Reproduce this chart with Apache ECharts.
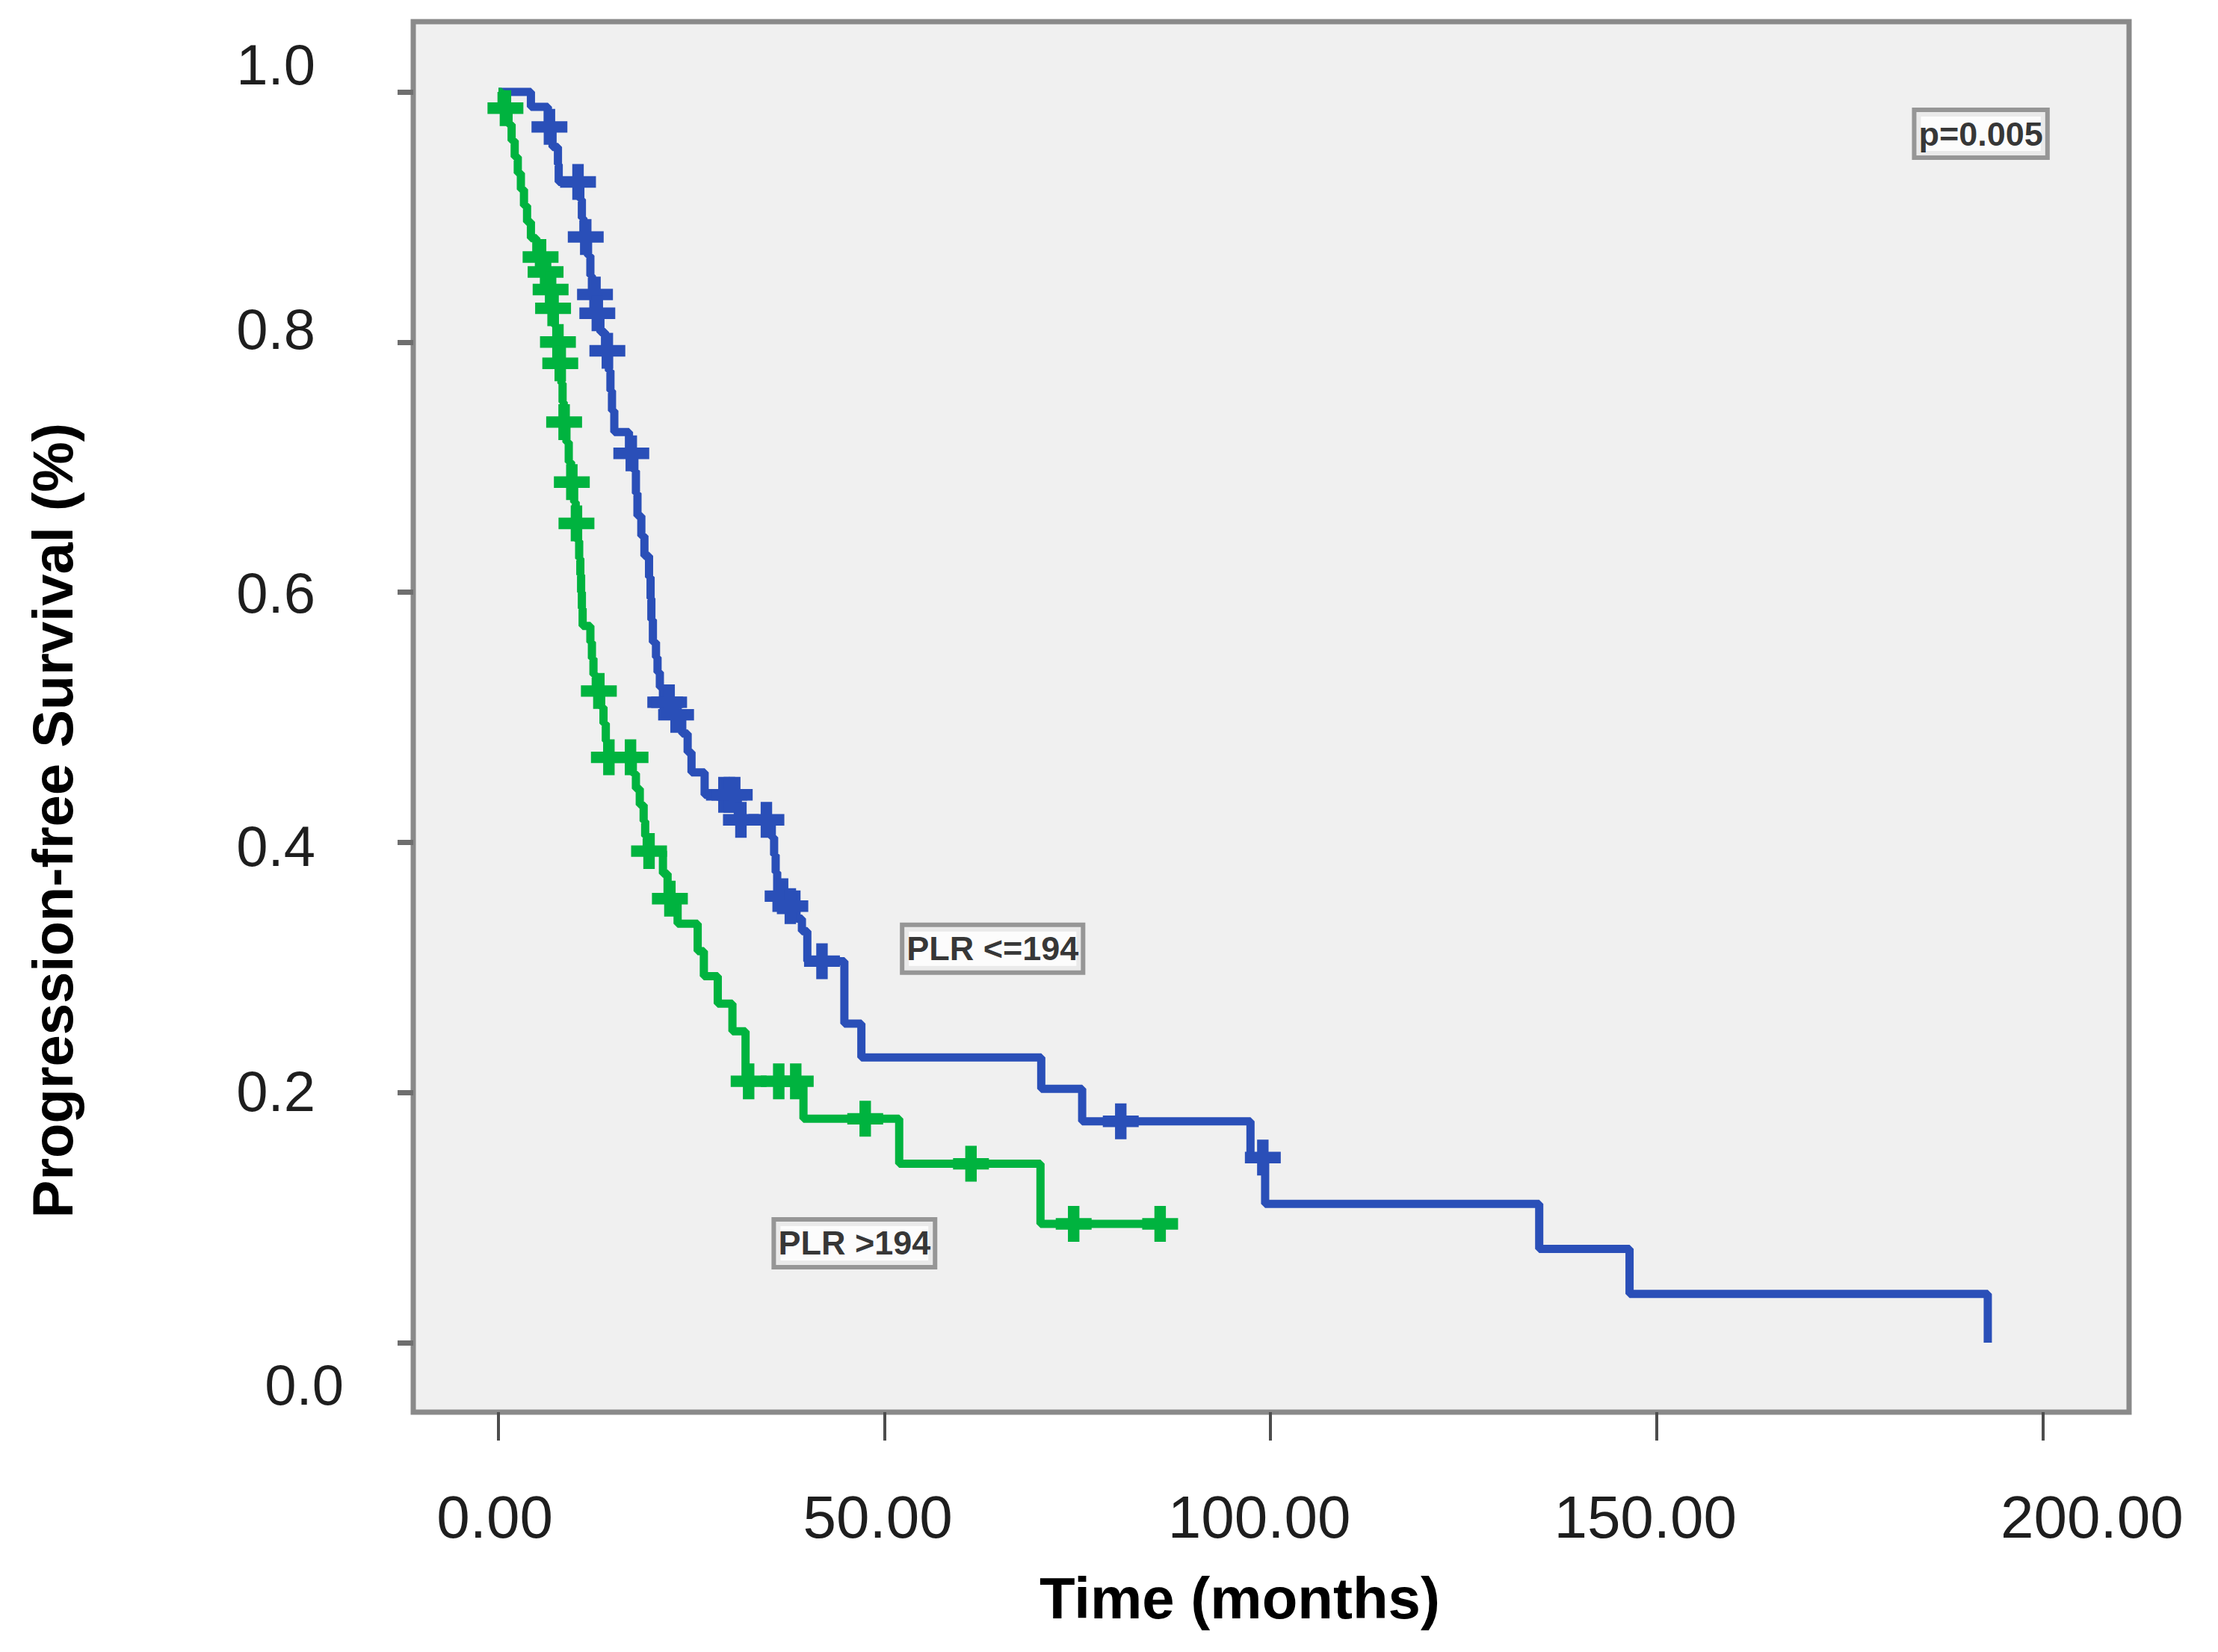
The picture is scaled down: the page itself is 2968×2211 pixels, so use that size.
<!DOCTYPE html>
<html>
<head>
<meta charset="utf-8">
<title>Progression-free Survival by PLR</title>
<script src="https://cdn.jsdelivr.net/npm/echarts@6/dist/echarts.min.js"></script>
<style>
html,body{margin:0;padding:0;background:#ffffff;}
#chart{width:2968px;height:2211px;}
</style>
</head>
<body>
<div id="chart"></div>
<script>
// ---- data (time in months, survival fraction) ----
const groupNames = ['PLR <=194', 'PLR >194'];

// PLR <=194: [time of event, survival after the event]
const blueSteps = [
  [0, 1.0], [4.2, 0.988], [6.4, 0.972], [7.0, 0.956], [7.7, 0.942], [7.8, 0.928],
  [10.6, 0.914], [10.8, 0.899], [11.0, 0.884], [11.6, 0.869], [11.9, 0.853], [12.1, 0.838],
  [12.6, 0.823], [13.2, 0.808], [13.8, 0.793], [14.3, 0.777], [14.5, 0.761], [14.7, 0.745],
  [15.0, 0.728], [16.9, 0.711], [17.6, 0.697], [17.8, 0.679], [18.0, 0.661], [18.5, 0.645],
  [18.9, 0.629], [19.5, 0.612], [19.7, 0.595], [19.8, 0.578], [20.0, 0.560], [20.4, 0.548],
  [20.6, 0.536], [20.9, 0.524], [21.3, 0.512], [22.6, 0.502], [23.8, 0.487], [24.5, 0.472],
  [25.0, 0.456], [26.7, 0.438], [31.0, 0.418], [35.4, 0.404], [35.7, 0.390], [35.9, 0.376],
  [36.1, 0.357], [37.3, 0.349], [38.6, 0.339], [39.3, 0.329], [40.0, 0.305], [44.8, 0.255],
  [47.0, 0.228], [70.3, 0.203], [75.6, 0.177], [97.4, 0.148], [99.3, 0.111], [134.8, 0.075],
  [146.5, 0.039], [192.9, 0.0]
];
const blueCensored = [
  [6.6, 0.972], [10.3, 0.928], [11.3, 0.884], [12.5, 0.838], [12.8, 0.823], [14.1, 0.793],
  [17.2, 0.711], [21.6, 0.512], [22.1, 0.512], [23.0, 0.502], [29.2, 0.438], [29.9, 0.438],
  [30.6, 0.438], [31.4, 0.418], [34.7, 0.418], [36.8, 0.357], [37.8, 0.349], [41.9, 0.305],
  [80.6, 0.177], [99.0, 0.148]
];

// PLR >194
const greenSteps = [
  [0, 1.0], [0.4, 0.987], [1.3, 0.974], [1.7, 0.961], [2.1, 0.948], [2.5, 0.935], [2.9, 0.922],
  [3.3, 0.909], [3.7, 0.896], [4.2, 0.883], [4.9, 0.868], [5.8, 0.856], [6.5, 0.842],
  [6.95, 0.827], [7.3, 0.813], [7.55, 0.800], [7.8, 0.783], [8.15, 0.767], [8.3, 0.752],
  [8.45, 0.736], [8.8, 0.720], [9.1, 0.704], [9.4, 0.688], [9.8, 0.672], [10.0, 0.655],
  [10.3, 0.641], [10.45, 0.627], [10.6, 0.614], [10.7, 0.600], [10.8, 0.587], [10.9, 0.573],
  [11.9, 0.560], [12.1, 0.547], [12.3, 0.534], [12.6, 0.521], [13.3, 0.508], [13.6, 0.495],
  [13.9, 0.481], [14.1, 0.468], [17.4, 0.455], [17.8, 0.443], [18.3, 0.430], [18.8, 0.417],
  [19.0, 0.405], [19.2, 0.393], [21.3, 0.375], [21.9, 0.355], [23.2, 0.335], [25.8, 0.313],
  [26.6, 0.293], [28.4, 0.271], [30.3, 0.249], [32.0, 0.209], [39.5, 0.179], [51.9, 0.143],
  [70.2, 0.095], [87.0, 0.095]
];
const greenCensored = [
  [0.9, 0.987], [5.45, 0.868], [6.1, 0.856], [6.75, 0.842], [7.07, 0.827], [7.7, 0.800],
  [8.0, 0.783], [8.5, 0.736], [9.5, 0.688], [10.1, 0.655], [13.0, 0.521], [14.3, 0.468],
  [17.1, 0.468], [19.5, 0.393], [22.2, 0.355], [32.4, 0.209], [36.3, 0.209], [38.5, 0.209],
  [47.5, 0.179], [61.2, 0.143], [74.5, 0.095], [85.7, 0.095]
];

// tick values
const xTickValues = [0, 50, 100, 150, 200];
const yTickValues = [0, 0.2, 0.4, 0.6, 0.8, 1.0];

// annotation boxes: [x (months), y (survival), text]
const annotations = [
  [64.0, 0.315, 'PLR <=194'],
  [46.1, 0.0795, 'PLR >194'],
  [192.0, 0.9665, 'p=0.005']
];

const xTitle = 'Time (months)';
const yTitle = 'Progression-free Survival (%)';

// ---- styling ----
const BLUE = '#2a4fb8';
const GREEN = '#00b33f';
const FONT = "'Liberation Sans', Arial, Helvetica, sans-serif";
const PLUS = 'path://M0,34 L34,34 L34,0 L66,0 L66,34 L100,34 L100,66 L66,66 L66,100 L34,100 L34,66 L0,66 Z';

const chart = echarts.init(document.getElementById('chart'), null, {renderer: 'svg'});

const xLabelRich = {
  r0: {fontSize: 80, lineHeight: 80, fontFamily: FONT, color: '#1e1e1e', padding: [0, 10, 0, 0]},
  r50: {fontSize: 80, lineHeight: 80, fontFamily: FONT, color: '#1e1e1e', padding: [0, 18, 0, 0]},
  r100: {fontSize: 80, lineHeight: 80, fontFamily: FONT, color: '#1e1e1e', padding: [0, 30, 0, 0]},
  r150: {fontSize: 80, lineHeight: 80, fontFamily: FONT, color: '#1e1e1e', padding: [0, 30, 0, 0]},
  r200: {fontSize: 80, lineHeight: 80, fontFamily: FONT, color: '#1e1e1e', padding: [0, 0, 0, 132]}
};
const yLabelRich = {
  n: {fontSize: 76, lineHeight: 76, fontFamily: FONT, color: '#1e1e1e', padding: [0, 38, 0, 0]},
  z: {fontSize: 76, lineHeight: 76, fontFamily: FONT, color: '#1e1e1e', padding: [0, 0, 0, 0]},
  b4: {fontSize: 76, lineHeight: 76, fontFamily: FONT, color: '#1e1e1e', padding: [0, 38, 29, 0]},
  b2: {fontSize: 76, lineHeight: 76, fontFamily: FONT, color: '#1e1e1e', padding: [0, 38, 78, 0]}
};

const option = {
  animation: false,
  backgroundColor: '#ffffff',
  grid: {
    left: 553, top: 29, width: 2296, height: 1861,
    show: true,
    backgroundColor: '#f0f0f0',
    borderColor: '#8a8a8a',
    borderWidth: 7
  },
  xAxis: {
    type: 'value',
    position: 'bottom',
    min: -11.04,
    max: 211.2,
    axisLine: {show: false, onZero: false},
    splitLine: {show: false},
    axisTick: {
      show: true,
      inside: false,
      customValues: xTickValues,
      length: 38,
      lineStyle: {color: '#4d4d4d', width: 4}
    },
    axisLabel: {
      show: true,
      customValues: xTickValues,
      margin: 100,
      formatter: function (v) {
        return '{r' + Math.round(v) + '|' + v.toFixed(2) + '}';
      },
      rich: xLabelRich
    }
  },
  yAxis: [
    {
      type: 'value',
      position: 'left',
      min: -0.05556,
      max: 1.05615,
      axisLine: {show: false, onZero: false},
      splitLine: {show: false},
      axisTick: {
        show: true,
        inside: false,
        customValues: yTickValues,
        length: 21,
        lineStyle: {color: '#6e6e6e', width: 7}
      },
      axisLabel: {show: false}
    },
    {
      type: 'value',
      position: 'left',
      min: -0.02095,
      max: 1.03284,
      axisLine: {show: false, onZero: false},
      splitLine: {show: false},
      axisTick: {show: false},
      axisLabel: {
        show: true,
        customValues: yTickValues,
        margin: 93,
        formatter: function (v) {
          const k = Math.round(v * 10);
          const key = k === 0 ? 'z' : (k === 2 ? 'b2' : (k === 4 ? 'b4' : 'n'));
          return '{' + key + '|' + v.toFixed(1) + '}';
        },
        rich: yLabelRich
      }
    }
  ],
  series: [
    {
      name: groupNames[0],
      type: 'line',
      step: 'end',
      data: blueSteps,
      showSymbol: false,
      lineStyle: {color: BLUE, width: 11},
      z: 3
    },
    {
      name: groupNames[0] + '-censored',
      type: 'scatter',
      data: blueCensored,
      symbol: PLUS,
      symbolSize: 48,
      itemStyle: {color: BLUE, opacity: 1},
      z: 4
    },
    {
      name: groupNames[1],
      type: 'line',
      step: 'end',
      data: greenSteps,
      showSymbol: false,
      lineStyle: {color: GREEN, width: 11},
      z: 3
    },
    {
      name: groupNames[1] + '-censored',
      type: 'scatter',
      data: greenCensored,
      symbol: PLUS,
      symbolSize: 48,
      itemStyle: {color: GREEN, opacity: 1},
      z: 4
    },
    {
      name: 'annotations',
      type: 'scatter',
      data: annotations,
      symbolSize: 1,
      itemStyle: {color: 'rgba(0,0,0,0)'},
      silent: true,
      z: 6,
      label: {
        show: true,
        position: 'inside',
        formatter: function (p) { return p.value[2]; },
        fontFamily: FONT,
        fontWeight: 'bold',
        fontSize: 45,
        lineHeight: 50,
        color: '#000000',
        backgroundColor: '#ffffff',
        borderColor: '#808080',
        borderWidth: 6,
        padding: [4, 3, 4, 3]
      }
    }
  ],
  graphic: [
    {
      type: 'text',
      x: 70,
      y: 1098,
      rotation: Math.PI / 2,
      style: {
        text: yTitle,
        x: 0, y: 0,
        fill: '#000000',
        font: "bold 76px 'Liberation Sans', Arial, sans-serif",
        textAlign: 'center',
        textVerticalAlign: 'middle'
      }
    },
    {
      type: 'text',
      x: 1659,
      y: 2139,
      style: {
        text: xTitle,
        x: 0, y: 0,
        fill: '#000000',
        font: "bold 78px 'Liberation Sans', Arial, sans-serif",
        textAlign: 'center',
        textVerticalAlign: 'middle'
      }
    }
  ]
};

chart.setOption(option);
</script>
</body>
</html>
